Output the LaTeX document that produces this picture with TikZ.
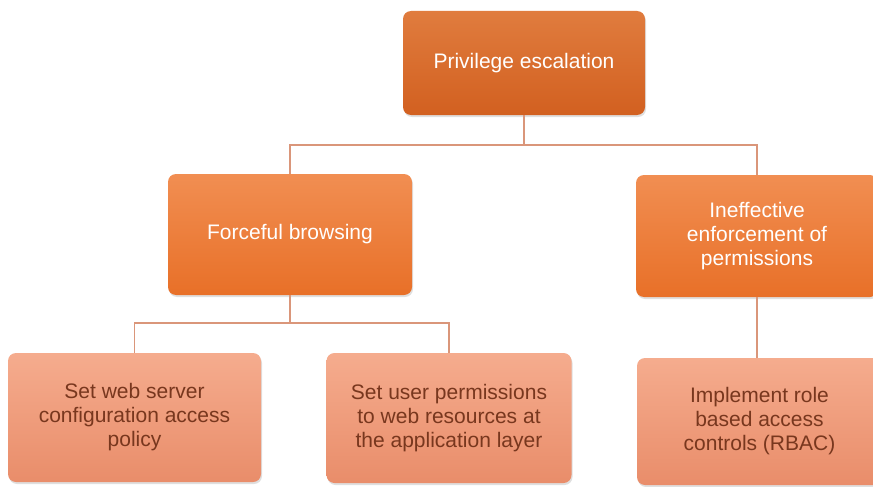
\documentclass[tikz,border=0pt]{standalone}
\usepackage{fontspec}
\setmainfont{Liberation Sans}
\usetikzlibrary{shadows}
\definecolor{topA}{RGB}{224,124,62}
\definecolor{topB}{RGB}{210,96,32}
\definecolor{midA}{RGB}{241,142,82}
\definecolor{midB}{RGB}{232,112,40}
\definecolor{lowA}{RGB}{245,172,142}
\definecolor{lowB}{RGB}{233,141,106}
\definecolor{lowtext}{RGB}{120,55,30}
\definecolor{linkc}{RGB}{218,150,122}
\tikzset{
  box/.style={rectangle, rounded corners=8pt, align=center, inner sep=4pt,
    font=\fontsize{21}{24}\selectfont,
    drop shadow={shadow xshift=1pt, shadow yshift=-2pt, opacity=0.25}},
  topbox/.style={box, top color=topA, bottom color=topB, text=white},
  midbox/.style={box, top color=midA, bottom color=midB, text=white},
  lowbox/.style={box, top color=lowA, bottom color=lowB, text=lowtext},
  link/.style={draw=linkc, line width=1.1pt}
}
\begin{document}
\begin{tikzpicture}[x=1pt,y=-1pt]
\clip (0,0) rectangle (873,487);
\fill[white] (0,0) rectangle (873,487);
\node[topbox, minimum width=242pt, minimum height=104pt] (top) at (524,63) {Privilege escalation};
\node[midbox, minimum width=244pt, minimum height=121pt] (force) at (290,234.5) {Forceful browsing};
\node[midbox, minimum width=242pt, minimum height=122pt] (ineff) at (757,236) {Ineffective\\enforcement of\\permissions};
\node[lowbox, minimum width=253pt, minimum height=129pt] (web) at (134.5,417.5) {Set web server\\configuration access\\policy};
\node[lowbox, minimum width=245pt, minimum height=130pt] (perm) at (449,418) {Set user permissions\\to web resources at\\the application layer};
\node[lowbox, minimum width=245pt, minimum height=127pt] (rbac) at (759.5,421.5) {Implement role\\based access\\controls (RBAC)};
\coordinate (j1) at (524,145);
\coordinate (j2) at (290,323);
\draw[link] (top.south) -- (j1) -| (force.north);
\draw[link] (j1) -| (ineff.north);
\draw[link] (force.south) -- (j2) -| (web.north);
\draw[link] (j2) -| (perm.north);
\draw[link] (ineff.south) -- (ineff.south |- rbac.north);
\end{tikzpicture}
\end{document}
